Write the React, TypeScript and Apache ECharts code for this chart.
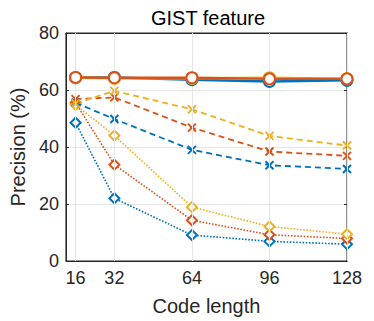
import React, { useEffect, useRef } from "react";
import * as echarts from "echarts";

const codeLengths = [16, 32, 64, 96, 128];
const xTicks = [16, 32, 64, 96, 128];

// solid lines, circle markers
const solidBlue = [64.3, 64.4, 63.6, 63.0, 63.4];
const solidYellow = [64.3, 64.1, 64.1, 64.3, 64.0];
const solidOrange = [64.4, 64.3, 64.3, 63.9, 63.9];

// dashed lines, x markers
const dashBlue = [55.5, 49.8, 39.0, 33.6, 32.3];
const dashOrange = [56.8, 57.4, 46.8, 38.4, 36.9];
const dashYellow = [55.3, 59.7, 53.2, 43.9, 40.5];

// dotted lines, diamond markers
const dotBlue = [48.5, 22.0, 9.1, 6.9, 5.9];
const dotOrange = [55.5, 33.8, 14.3, 9.2, 7.9];
const dotYellow = [54.8, 44.0, 18.9, 12.1, 9.4];

const BLUE = "#0072BD";
const ORANGE = "#D95319";
const YELLOW = "#EDB120";
const AXIS = "#262626";
const FONT = "Liberation Sans";

const pair = (ys: number[]) => codeLengths.map((x, i) => [x, ys[i]]);
const CROSS = "path://M0,0L10,10M10,0L0,10";

function solid(data: number[], color: string) {
  return {
    type: "line",
    data: pair(data),
    symbol: "emptyCircle",
    symbolSize: 11,
    lineStyle: { color, width: 2.4, type: "solid" },
    itemStyle: { color, borderColor: color, borderWidth: 2.6 },
    z: 5,
  };
}
function dashed(data: number[], color: string) {
  return {
    type: "line",
    data: pair(data),
    symbol: CROSS,
    symbolSize: 8,
    lineStyle: { color, width: 1.8, type: [6, 4] },
    itemStyle: { color, borderColor: color, borderWidth: 2 },
    z: 4,
  };
}
function dotted(data: number[], color: string) {
  return {
    type: "line",
    data: pair(data),
    symbol: "emptyDiamond",
    symbolSize: 10,
    lineStyle: { color, width: 1.6, type: [1.6, 1.6] },
    itemStyle: { color, borderColor: color, borderWidth: 2 },
    z: 3,
  };
}

export default function App() {
  const ref = useRef<HTMLDivElement>(null);
  useEffect(() => {
    if (!ref.current) return;
    const chart = echarts.init(ref.current, null, { renderer: "svg" });
    const gridLine = { show: true, lineStyle: { color: "#e6e6e6", width: 1 } };
    chart.setOption({
      animation: false,
      backgroundColor: "#fff",
      title: {
        text: "GIST feature",
        left: 203,
        textAlign: "center",
        top: 3,
        textStyle: { fontFamily: FONT, fontSize: 20, fontWeight: "normal", color: "#000" },
      },
      grid: {
        left: 61,
        right: 27,
        top: 33,
        bottom: 59,
        show: true,
        borderColor: AXIS,
        borderWidth: 1,
        backgroundColor: "transparent",
      },
      xAxis: [
        {
          type: "value",
          min: 12,
          max: 128,
          interval: 16,
          position: "bottom",
          name: "Code length",
          nameLocation: "middle",
          nameGap: 35,
          nameTextStyle: { fontFamily: FONT, fontSize: 20, color: AXIS },
          axisLine: { show: true, onZero: false, lineStyle: { color: AXIS } },
          axisTick: { show: true, inside: true, length: 3, customValues: xTicks, lineStyle: { color: AXIS } },
          axisLabel: { fontFamily: FONT, fontSize: 18, color: AXIS, margin: 8, customValues: xTicks },
          splitLine: { show: false },
        },
        {
          type: "value",
          min: 12,
          max: 128,
          position: "top",
          axisLine: { show: true, onZero: false, lineStyle: { color: AXIS } },
          axisTick: { show: true, inside: true, length: 3, customValues: xTicks, lineStyle: { color: AXIS } },
          axisLabel: { show: false },
          splitLine: { show: false },
        },
      ],
      yAxis: [
        {
          type: "value",
          min: 0,
          max: 80,
          interval: 20,
          name: "Precision (%)",
          nameLocation: "middle",
          nameGap: 33,
          nameTextStyle: { fontFamily: FONT, fontSize: 20, color: AXIS },
          axisLine: { show: true, lineStyle: { color: AXIS } },
          axisTick: { show: true, inside: true, length: 3, lineStyle: { color: AXIS } },
          axisLabel: { fontFamily: FONT, fontSize: 18, color: AXIS, margin: 7 },
          splitLine: gridLine,
        },
        {
          type: "value",
          min: 0,
          max: 80,
          interval: 20,
          position: "right",
          axisLine: { show: true, lineStyle: { color: AXIS } },
          axisTick: { show: true, inside: true, length: 3, lineStyle: { color: AXIS } },
          axisLabel: { show: false },
          splitLine: { show: false },
        },
      ],
      series: [
        {
          type: "line",
          data: [],
          markLine: {
            silent: true,
            symbol: "none",
            label: { show: false },
            lineStyle: { color: "#e6e6e6", width: 1, type: "solid" },
            data: xTicks.map((x) => ({ xAxis: x })),
          },
          z: 1,
        },
        dotted(dotBlue, BLUE),
        dotted(dotOrange, ORANGE),
        dotted(dotYellow, YELLOW),
        dashed(dashBlue, BLUE),
        dashed(dashOrange, ORANGE),
        dashed(dashYellow, YELLOW),
        solid(solidBlue, BLUE),
        solid(solidYellow, YELLOW),
        solid(solidOrange, ORANGE),
      ],
    });
    return () => chart.dispose();
  }, []);
  return <div ref={ref} style={{ width: 374, height: 321, position: "absolute", left: 0, top: 0 }} />;
}
